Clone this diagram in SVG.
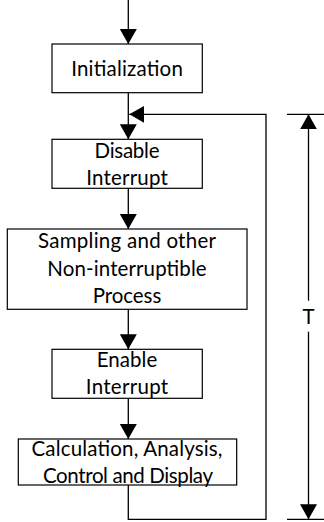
<svg xmlns="http://www.w3.org/2000/svg" width="324" height="522" viewBox="0 0 324 522">
<style>
.box{fill:#fff;stroke:#000;stroke-width:1.2}
.ln{fill:none;stroke:#000;stroke-width:1.3}
text{font-family:Lato,"Liberation Sans",Arial,sans-serif;font-size:20.5px;fill:#000;text-anchor:middle}
</style>
<defs>
<marker id="ah" markerUnits="userSpaceOnUse" markerWidth="16" markerHeight="18" refX="15" refY="8.5" orient="auto">
<path d="M0,0 L15,8.5 L0,17 Z" fill="#000"/>
</marker>
</defs>
<rect width="324" height="522" fill="#fff"/>
<g id="connectors">
<path class="ln" d="M128.3,0 V44" marker-end="url(#ah)"/>
<path class="ln" d="M128.3,92.7 V139.3" marker-end="url(#ah)"/>
<path class="ln" d="M128.3,188.3 V229" marker-end="url(#ah)"/>
<path class="ln" d="M128.3,309.3 V349.3" marker-end="url(#ah)"/>
<path class="ln" d="M128.3,398.3 V439" marker-end="url(#ah)"/>
<path class="ln" d="M128.3,485 V519.3 H266 V114.3 H129.3" marker-end="url(#ah)"/>
<path class="ln" d="M308.5,300.7 V114.3" marker-end="url(#ah)"/>
<path class="ln" d="M308.5,331.7 V519.3" marker-end="url(#ah)"/>
<path class="ln" d="M287,114.3 H324 M287,519.3 H324"/>
<text x="308.5" y="323.5">T</text>
</g>
<g id="init">
<rect class="box" x="52" y="44" width="150.3" height="48.7"/>
<text x="127" y="76" textLength="111.7" lengthAdjust="spacing">Initialization</text>
</g>
<g id="disable">
<rect class="box" x="52" y="139.3" width="150.3" height="49"/>
<text x="127" y="158.3" textLength="65" lengthAdjust="spacing">Disable</text>
<text x="127" y="185" textLength="81.7" lengthAdjust="spacing">Interrupt</text>
</g>
<g id="sampling">
<rect class="box" x="7.3" y="229" width="239.7" height="80.3"/>
<text x="127" y="248.3" textLength="178" lengthAdjust="spacing">Sampling and other</text>
<text x="127" y="276" textLength="159.3" lengthAdjust="spacing">Non-interruptible</text>
<text x="127" y="303.3" textLength="68.7" lengthAdjust="spacing">Process</text>
</g>
<g id="enable">
<rect class="box" x="52" y="349.3" width="150.3" height="49"/>
<text x="127" y="367.3" textLength="60.7" lengthAdjust="spacing">Enable</text>
<text x="127" y="394" textLength="82.3" lengthAdjust="spacing">Interrupt</text>
</g>
<g id="calc">
<rect class="box" x="18.3" y="439" width="218.4" height="46"/>
<text x="127" y="456" textLength="191" lengthAdjust="spacing">Calculation, Analysis,</text>
<text x="128" y="483" textLength="170" lengthAdjust="spacing">Control and Display</text>
</g>
</svg>
